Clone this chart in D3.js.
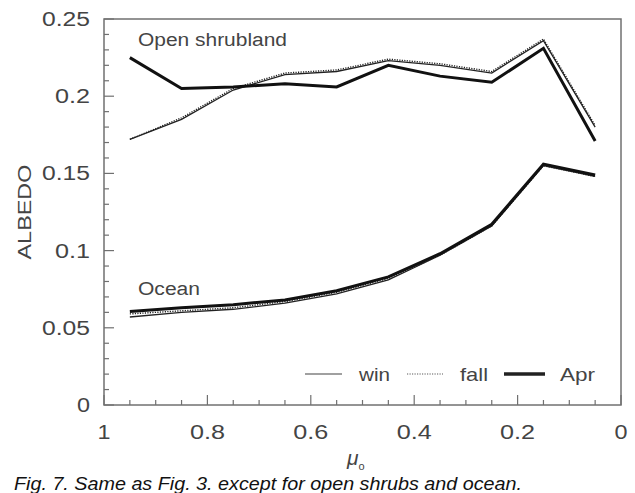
<!DOCTYPE html>
<html>
<head>
<meta charset="utf-8">
<script src="https://cdn.jsdelivr.net/npm/d3@7"></script>
<style>
  body { margin: 0; background: #fff; overflow: hidden; }
  svg { display: block; }
</style>
</head>
<body>
<svg id="chart" width="635" height="493"></svg>
<script>
// solar zenith cosine, plotted reversed (1 on the left)
const mu = [0.95, 0.85, 0.75, 0.65, 0.55, 0.45, 0.35, 0.25, 0.15, 0.05];

// open shrubland
const shrubWin  = [0.172, 0.185, 0.204, 0.214, 0.216, 0.223, 0.220, 0.215, 0.236, 0.180];
const shrubFall = [0.172, 0.186, 0.205, 0.215, 0.217, 0.224, 0.221, 0.216, 0.237, 0.181];
const shrubApr  = [0.225, 0.205, 0.206, 0.208, 0.206, 0.220, 0.213, 0.209, 0.231, 0.171];

// ocean
const oceanWin  = [0.057, 0.060, 0.062, 0.066, 0.072, 0.081, 0.097, 0.116, 0.155, 0.148];
const oceanFall = [0.059, 0.061, 0.063, 0.067, 0.073, 0.082, 0.097, 0.116, 0.155, 0.148];
const oceanApr  = [0.0605, 0.063, 0.065, 0.068, 0.074, 0.083, 0.098, 0.117, 0.156, 0.149];

const xTicks = [1, 0.8, 0.6, 0.4, 0.2, 0];
const yTicks = [0, 0.05, 0.1, 0.15, 0.2, 0.25];
const legendLabels = ["win", "fall", "Apr"];

const plotL = 104, plotR = 621, plotT = 19, plotB = 405;
const svg = d3.select("#chart");
const font = "'Liberation Sans', Arial, sans-serif";
const textColor = "#444";

let x = d3.scaleLinear().domain([1, 0]).range([plotL, plotR]);
let y = d3.scaleLinear().domain([0, 0.25]).range([plotB, plotT]);

// line styles per season
const styles = {
  win:  { width: 1.3, dash: null, color: "#222", legend: "#808080" },
  fall: { width: 1.4, dash: "1.2,1.3", color: "#222", legend: "#909090" },
  Apr:  { width: 3, dash: null, color: "#111", legend: "#222" }
};

let line = d3.line()
  .x((d, i) => x(mu[i]))
  .y(d => y(d));

function drawSeries(values, season) {
  let s = styles[season];
  svg.append("path")
    .datum(values)
    .attr("d", line)
    .attr("fill", "none")
    .attr("stroke", s.color)
    .attr("stroke-width", s.width)
    .attr("stroke-dasharray", s.dash)
    .attr("stroke-linejoin", "miter");
}

// the original's lettering is wide, so stretch glyphs to the measured width
function label(px, py, str, size, len) {
  return svg.append("text")
    .attr("x", px).attr("y", py)
    .attr("font-family", font).attr("font-size", size)
    .attr("fill", textColor)
    .attr("textLength", len).attr("lengthAdjust", "spacingAndGlyphs")
    .text(str);
}

// width of a number label: ~13px per digit, ~9px for the point
function numWidth(d) {
  let s = String(d);
  return s.replace(".", "").length * 13 + (s.includes(".") ? 9 : 0);
}

// frame
svg.append("rect")
  .attr("x", plotL).attr("y", plotT)
  .attr("width", plotR - plotL).attr("height", plotB - plotT)
  .attr("fill", "none")
  .attr("stroke", "#707070")
  .attr("stroke-width", 1.5);

// minor + major ticks pointing inward
let yMinor = d3.range(0, 0.2501, 0.01);
svg.append("g").selectAll("line")
  .data(yMinor)
  .join("line")
  .attr("x1", plotL).attr("x2", (d, i) => plotL + (i % 5 == 0 ? 10 : 5))
  .attr("y1", d => y(d)).attr("y2", d => y(d))
  .attr("stroke", "#707070").attr("stroke-width", 1.2);

let xMinor = d3.range(0, 1.0001, 0.05);
svg.append("g").selectAll("line")
  .data(xMinor)
  .join("line")
  .attr("x1", d => x(d)).attr("x2", d => x(d))
  .attr("y1", plotB).attr("y2", (d, i) => plotB - (i % 4 == 0 ? 10 : 5))
  .attr("stroke", "#707070").attr("stroke-width", 1.2);

// tick labels
svg.append("g").selectAll("text")
  .data(yTicks)
  .join("text")
  .attr("x", d => 90 - numWidth(d)).attr("y", d => y(d))
  .attr("dy", "0.35em")
  .attr("font-family", font).attr("font-size", 20)
  .attr("textLength", numWidth).attr("lengthAdjust", "spacingAndGlyphs")
  .attr("fill", textColor)
  .text(d => d);

svg.append("g").selectAll("text")
  .data(xTicks)
  .join("text")
  .attr("x", d => x(d) - numWidth(d) / 2).attr("y", 432)
  .attr("dy", "0.35em")
  .attr("font-family", font).attr("font-size", 20)
  .attr("textLength", numWidth).attr("lengthAdjust", "spacingAndGlyphs")
  .attr("fill", textColor)
  .text(d => d);

// axis titles
svg.append("text")
  .attr("transform", "translate(31,212) rotate(-90)")
  .attr("text-anchor", "middle")
  .attr("font-family", font).attr("font-size", 19)
  .attr("textLength", 95).attr("lengthAdjust", "spacingAndGlyphs")
  .attr("fill", textColor)
  .text("ALBEDO");

let xt = svg.append("text")
  .attr("x", 347).attr("y", 465)
  .attr("font-family", font).attr("font-size", 21)
  .attr("fill", textColor);
xt.append("tspan").attr("font-style", "italic").text("\u03bc");
xt.append("tspan").attr("font-size", 11).attr("dy", 5).text("o");

// series
drawSeries(shrubWin, "win");
drawSeries(shrubFall, "fall");
drawSeries(shrubApr, "Apr");
drawSeries(oceanWin, "win");
drawSeries(oceanFall, "fall");
drawSeries(oceanApr, "Apr");

// panel labels
label(138, 46, "Open shrubland", 18, 149);
label(138, 295, "Ocean", 18, 62);

// legend
let legendLine = [[305, 342], [407, 443], [504, 545]];
let legendText = [[359, 31], [460, 28], [560, 35]];
legendLabels.forEach((name, i) => {
  let s = styles[name];
  svg.append("line")
    .attr("x1", legendLine[i][0]).attr("x2", legendLine[i][1])
    .attr("y1", 374).attr("y2", 374)
    .attr("stroke", s.legend)
    .attr("stroke-width", name == "Apr" ? 3.5 : 1.6)
    .attr("stroke-dasharray", s.dash);
  label(legendText[i][0], 381, name, 19, legendText[i][1]);
});

// caption, sitting at the bottom edge as in the scan
svg.append("text")
  .attr("x", 14).attr("y", 490)
  .attr("font-family", font).attr("font-size", 19)
  .attr("font-style", "italic")
  .attr("textLength", 508).attr("lengthAdjust", "spacingAndGlyphs")
  .attr("fill", "#111")
  .text("Fig. 7. Same as Fig. 3. except for open shrubs and ocean.");
</script>
</body>
</html>
